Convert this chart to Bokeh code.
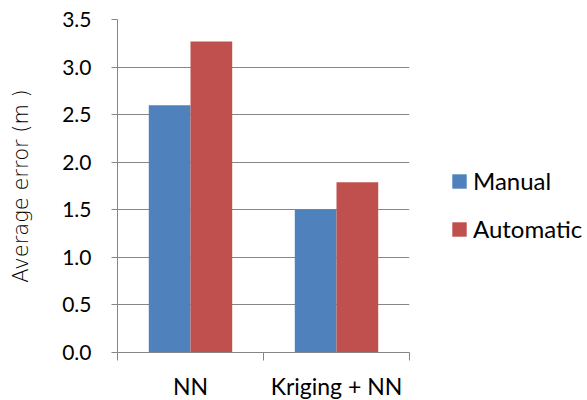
from bokeh.plotting import figure
from bokeh.models import (ColumnDataSource, FixedTicker, NumeralTickFormatter,
                          Legend, LegendItem, Range1d)
from bokeh.embed import file_html
from bokeh.resources import INLINE

# Data
categories = ["NN", "Kriging + NN"]
manual = [2.6, 1.5]
automatic = [3.27, 1.79]
series_names = ["Manual", "Automatic"]
y_ticks = [0.0, 0.5, 1.0, 1.5, 2.0, 2.5, 3.0, 3.5]

BLUE = "#4F81BD"
RED = "#C0504D"
GREY = "#868686"
FONT = "Lato"

# Each category occupies one unit; two bars with a 150% gap
bar_w = 1 / 3.5
centers = [i + 0.5 for i in range(len(categories))]

src_manual = ColumnDataSource(dict(x=[c - bar_w / 2 for c in centers], top=manual))
src_auto = ColumnDataSource(dict(x=[c + bar_w / 2 for c in centers], top=automatic))

p = figure(frame_width=292, frame_height=333,
           min_border_left=117, min_border_right=178,
           min_border_top=19, min_border_bottom=48,
           x_range=Range1d(0, len(categories)),
           y_range=Range1d(y_ticks[0], y_ticks[-1]),
           output_backend="svg", toolbar_location=None)

r_manual = p.vbar(x="x", top="top", width=bar_w, source=src_manual,
                  fill_color=BLUE, line_color=None)
r_auto = p.vbar(x="x", top="top", width=bar_w, source=src_auto,
                fill_color=RED, line_color=None)

p.outline_line_color = None
p.background_fill_color = "white"
p.border_fill_color = "white"

# x axis: labels centred on categories, tick marks on category boundaries
xa = p.xaxis[0]
xa.ticker = FixedTicker(ticks=centers,
                        minor_ticks=list(range(len(categories) + 1)))
xa.major_label_overrides = {c: lab for c, lab in zip(centers, categories)}
xa.major_tick_line_color = None
xa.major_tick_out = 0
xa.major_tick_in = 0
xa.minor_tick_line_color = GREY
xa.minor_tick_out = 8
xa.minor_tick_in = 0
xa.axis_line_color = GREY
xa.major_label_text_font = FONT
xa.major_label_text_font_size = "23px"
xa.major_label_text_color = "black"
xa.major_label_standoff = 11

# y axis
ya = p.yaxis[0]
ya.ticker = FixedTicker(ticks=y_ticks)
ya.formatter = NumeralTickFormatter(format="0.0")
ya.minor_tick_line_color = None
ya.major_tick_line_color = GREY
ya.major_tick_out = 6
ya.major_tick_in = 0
ya.axis_line_color = GREY
ya.major_label_text_font = FONT
ya.major_label_text_font_size = "21px"
ya.major_label_text_color = "black"
ya.major_label_standoff = 20
ya.axis_label = "Average error (m )"
ya.axis_label_text_font = "DejaVu Sans Light"
ya.axis_label_text_font_style = "normal"
ya.axis_label_text_font_size = "21px"
ya.axis_label_text_color = "black"
ya.axis_label_standoff = 26

p.xgrid.grid_line_color = None
p.ygrid.grid_line_color = GREY
p.ygrid.grid_line_width = 1

legend = Legend(items=[LegendItem(label=series_names[0], renderers=[r_manual]),
                       LegendItem(label=series_names[1], renderers=[r_auto])],
                location=(41, 109), orientation="vertical",
                glyph_width=18, glyph_height=18, label_height=18,
                spacing=19, padding=0, margin=0, label_standoff=5,
                label_text_font=FONT, label_text_font_size="24px",
                label_text_color="black",
                border_line_color=None, background_fill_alpha=0)
p.add_layout(legend, "right")

open("out.html", "w").write(file_html(p, INLINE))
